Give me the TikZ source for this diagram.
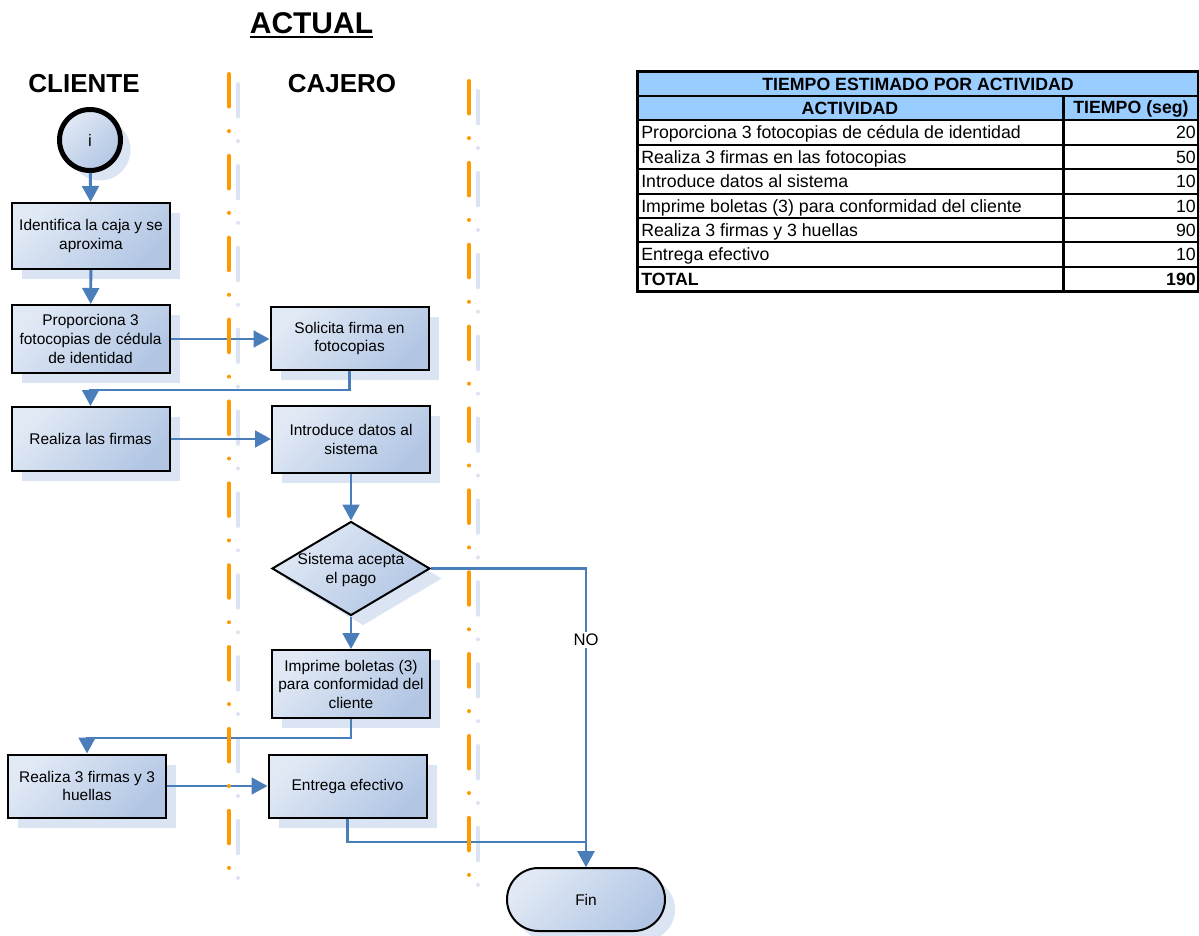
\documentclass[tikz,border=0pt]{standalone}
\usepackage{fontspec}
\setmainfont{Liberation Sans}
\usetikzlibrary{arrows.meta,shapes.geometric,shapes.misc,shadows}

\definecolor{flow}{RGB}{74,126,187}
\definecolor{lanec}{RGB}{255,153,0}
\definecolor{fillhi}{RGB}{225,233,245}
\definecolor{filllo}{RGB}{178,198,228}
\definecolor{shadowc}{RGB}{219,228,242}
\definecolor{headc}{RGB}{153,204,255}

\newcommand\boxfont{\fontsize{11.6}{13.9}\selectfont}
\newcommand\tabfont{\fontsize{13.3}{16}\selectfont}

\tikzset{
  shaded/.style={draw=black, line width=1.5pt,
    top color=fillhi, bottom color=filllo, shading angle=45},
  proc/.style={shaded, rectangle, align=center, font=\boxfont,
    minimum width=118.5pt, inner sep=2pt,
    general shadow={fill=shadowc, shadow xshift=7.5pt, shadow yshift=-7.5pt}},
  startc/.style={shaded, circle, line width=3.75pt, minimum size=45.75pt,
    inner sep=0pt, font=\fontsize{12.5}{15}\selectfont,
    general shadow={fill=shadowc, shadow xshift=7.5pt, shadow yshift=-7.5pt}},
  endc/.style={shaded, rounded rectangle, minimum width=118.5pt,
    minimum height=47.25pt, inner sep=0pt, font=\boxfont,
    general shadow={fill=shadowc, shadow xshift=7.5pt, shadow yshift=-7.5pt}},
  decision/.style={shaded, diamond, aspect=1.68, minimum width=118.5pt,
    minimum height=70.5pt, inner sep=0pt,
    general shadow={fill=shadowc, shadow xshift=9pt, shadow yshift=-7.5pt}},
  flowline/.style={draw=flow, line width=2.2pt},
  arr/.style={flowline, -{Triangle[length=12pt,width=12.5pt]}},
  lanepat/.style={line width=3pt, line cap=round,
    dash pattern=on 24.4pt off 18.4pt on 0pt off 18.6pt},
  lane/.style={lanepat, draw=lanec},
  laneshadow/.style={lanepat, draw=shadowc},
  lanehead/.style={font=\fontsize{19.5}{23}\selectfont\bfseries, inner sep=0pt, anchor=base},
  cell/.style={font=\tabfont, inner sep=0pt},
}

\begin{document}
\begin{tikzpicture}[x=0.75pt,y=-0.75pt]
\useasboundingbox (0,0) rectangle (1199,935);

% ---------- headings ----------
\node[font=\fontsize{22.5}{27}\selectfont\bfseries, inner sep=0pt, anchor=base]
  (title) at (311.5,33) {ACTUAL};
\draw[line width=1.9pt] ([yshift=-3pt]title.base west) -- ([yshift=-3pt]title.base east);
\node[lanehead] (hcli) at (84,92) {CLIENTE};
\node[lanehead] (hcaj) at (342,92) {CAJERO};

% ---------- lane separators (shadows first) ----------
\draw[laneshadow] (238,84) -- (238,879);
\draw[laneshadow] (478,91) -- (478,885);

% ---------- flow shapes ----------
\node[startc] (start) at (90,140) {i};
\node[proc, minimum height=49.5pt] (ident) at (91,236)
  {Identifica la caja y se\\aproxima};
\node[proc, minimum height=51pt] (prop) at (90.5,339)
  {Proporciona 3\\fotocopias de cédula\\de identidad};
\node[proc, minimum height=47.25pt] (solic) at (349.5,338.5)
  {Solicita firma en\\fotocopias};
\node[proc, minimum height=48pt] (firmas) at (90.5,439)
  {Realiza las firmas};
\node[proc, minimum height=50.25pt] (intro) at (351,439.5)
  {Introduce datos al\\sistema};
\node[decision] (dec) at (351,568.5) {};
\node[font=\boxfont, align=center, inner sep=0pt] (dectext) at (351,570)
  {Sistema acepta\\el pago};
\node[proc, minimum height=51pt] (impr) at (351,684)
  {Imprime boletas (3)\\para conformidad del\\cliente};
\node[proc, minimum height=47.25pt] (real3) at (87,786)
  {Realiza 3 firmas y 3\\huellas};
\node[proc, minimum height=47.25pt] (entrega) at (347.5,786)
  {Entrega efectivo};
\node[endc] (fin) at (586,899.5) {Fin};

% ---------- connectors ----------
\draw[arr] (start) -- (ident);
\draw[arr] (ident) -- (prop);
\draw[arr] (prop.east) -- (prop.east -| solic.west);
\draw[arr] (solic.south) -- ++(0,19) -| (firmas.north);
\draw[arr] (firmas.east) -- (firmas.east -| intro.west);
\draw[arr] (intro) -- (dec);
\draw[arr] (dec.east) -| (fin.north);
\draw[arr] (dec) -- (impr);
\draw[arr] (impr.south) -- ++(0,19) -| (real3.north);
\draw[arr] (real3.east) -- (real3.east -| entrega.west);
\draw[arr] (entrega.south) -- ++(0,23.5) -| (fin.north);
\node[font=\fontsize{12.5}{15}\selectfont, fill=white, inner sep=1.5pt] (no) at (586,640) {NO};

% ---------- lane separators ----------
\draw[lane] (229,74) -- (229,869);
\draw[lane] (469,81) -- (469,875);

% ---------- activity time table ----------
\fill[headc] (637,71.5) rectangle (1198,120.3);
\foreach \k in {1,...,8}
  \draw[line width=1.5pt] (637,71.5+24.4*\k) -- (1198,71.5+24.4*\k);
\draw[line width=2.25pt] (1063,95.9) -- (1063,291.1);
\draw[line width=2.25pt] (637,71.5) rectangle (1198,291.1);

\node[cell, font=\tabfont\bfseries] (ttitle) at (918,84.2) {TIEMPO ESTIMADO POR ACTIVIDAD};
\node[cell, font=\tabfont\bfseries] (tact) at (850,108.6) {ACTIVIDAD};
\node[cell, font=\tabfont\bfseries] (ttime) at (1131,108.6) {TIEMPO (seg)};
\foreach \txt/\val [count=\i] in {
    Proporciona 3 fotocopias de cédula de identidad/20,
    Realiza 3 firmas en las fotocopias/50,
    Introduce datos al sistema/10,
    Imprime boletas (3) para conformidad del cliente/10,
    Realiza 3 firmas y 3 huellas/90,
    Entrega efectivo/10} {
  \node[cell, anchor=base west] (act\i) at (641,120.3+24.4*\i-12.2+6.4) {\txt};
  \node[cell, anchor=base east] (sec\i) at (1196,120.3+24.4*\i-12.2+6.4) {\val};
}
\node[cell, font=\tabfont\bfseries, anchor=base west] (ttot) at (641,285.3) {TOTAL};
\node[cell, font=\tabfont\bfseries, anchor=base east] (tsum) at (1196,285.3) {190};
\end{tikzpicture}
\end{document}
